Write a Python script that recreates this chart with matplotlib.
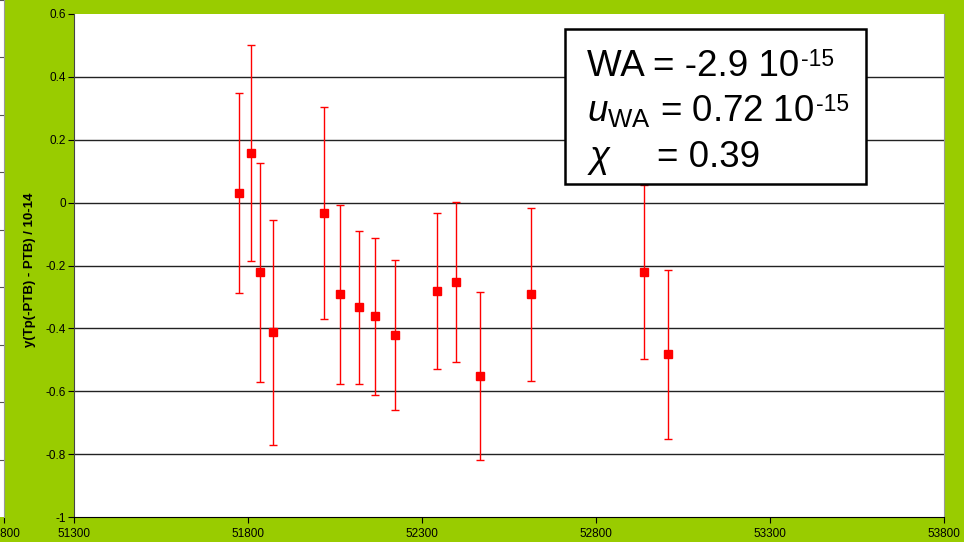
import numpy as np
import matplotlib
matplotlib.use("Agg")
import matplotlib.pyplot as plt
from matplotlib.patches import Rectangle

plt.rcParams['font.family'] = ['Liberation Sans', 'DejaVu Sans']
plt.rcParams['mathtext.fontset'] = 'custom'
plt.rcParams['mathtext.rm'] = 'Liberation Sans'
plt.rcParams['mathtext.it'] = 'Liberation Sans:italic'

# MJD of each comparison, deviation / 1e-14 and its uncertainty
mjd = [51774, 51809, 51835, 51871, 52018, 52064, 52119, 52165, 52222,
       52342, 52398, 52466, 52613, 52937, 53007]
dev = [0.03, 0.157, -0.222, -0.413, -0.034, -0.292, -0.333, -0.362, -0.422,
       -0.282, -0.253, -0.552, -0.292, -0.222, -0.483]
unc = [0.318, 0.343, 0.349, 0.357, 0.337, 0.286, 0.243, 0.25, 0.239,
       0.248, 0.254, 0.267, 0.276, 0.277, 0.27]

xticks = [51300, 51800, 52300, 52800, 53300, 53800]
yticks = [-1, -0.8, -0.6, -0.4, -0.2, 0, 0.2, 0.4, 0.6]

green = '#99CC00'
W, H = 964, 542
fig = plt.figure(figsize=(W / 100, H / 100), dpi=100, facecolor=green)

# sliver of the neighbouring chart on the far left
ax0 = fig.add_axes([-100 / W, 25 / H, 104 / W, 517 / H])
ax0.set_xlim(53300, 53800)
ax0.set_ylim(0, 9)
for k in range(1, 10):
    ax0.axhline(k, color='#555555', lw=0.8)
for s in ['top', 'left', 'bottom']:
    ax0.spines[s].set_visible(False)
ax0.spines['right'].set_color('#999999')
ax0.set_yticks([])
ax0.set_xticks([53800])
ax0.tick_params(axis='x', length=4, width=0.8, labelsize=8.5, pad=4)

# main chart
ax = fig.add_axes([74 / W, 25 / H, 870 / W, 503 / H])
ax.errorbar(mjd, dev, yerr=unc, fmt='s', color='#FF0000', ms=6,
            ecolor='#FF0000', elinewidth=1, capsize=3, capthick=1, zorder=3)

ax.set_xlim(51300, 53800)
ax.set_ylim(-1, 0.6)
ax.set_xticks(xticks)
ax.set_xticklabels([str(t) for t in xticks])
ax.set_yticks(yticks)
ax.set_yticklabels(['-1', '-0.8', '-0.6', '-0.4', '-0.2', '0', '0.2', '0.4', '0.6'])
for y in yticks[1:-1]:
    ax.axhline(y, color='#222222', lw=1, zorder=1)

ax.spines['top'].set_visible(False)
ax.spines['right'].set_color('#999999')
ax.spines['left'].set_color('#444444')
ax.spines['bottom'].set_color('black')
ax.tick_params(axis='both', length=4, width=0.8, labelsize=8.5, colors='black')
ax.tick_params(axis='y', pad=2)
ax.tick_params(axis='x', pad=4)

fig.text(30 / W, 1 - 270 / H, 'y(Tp(-PTB) - PTB) / 10-14', rotation=90,
         fontsize=9.5, fontweight='bold', ha='center', va='center')

# result box
box = Rectangle((565 / W, 1 - 184 / H), 301 / W, 155 / H, transform=fig.transFigure,
                facecolor='white', edgecolor='black', lw=1.8, zorder=10)
fig.patches.append(box)

fs = 26.5
renderer = fig.canvas.get_renderer()


def line_with_power(x, y, base, power):
    t = fig.text(x / W, 1 - y / H, base, fontsize=fs, ha='left', va='baseline', zorder=11)
    bb = t.get_window_extent(renderer)
    fig.text((bb.x1 + 2) / W, 1 - (y - 10) / H, power, fontsize=16.5,
             ha='left', va='baseline', zorder=11)


line_with_power(587, 76, 'WA = -2.9 10', '-15')
line_with_power(587, 121, r'$\mathit{u}_{\mathregular{WA}}$ = 0.72 10', '-15')
fig.text(587 / W, 1 - 167 / H, r'$\chi$', fontsize=fs, ha='left', va='baseline', zorder=11)
fig.text(657 / W, 1 - 167 / H, '= 0.39', fontsize=fs, ha='left', va='baseline', zorder=11)

fig.savefig('out.png', dpi=100, facecolor=green)
